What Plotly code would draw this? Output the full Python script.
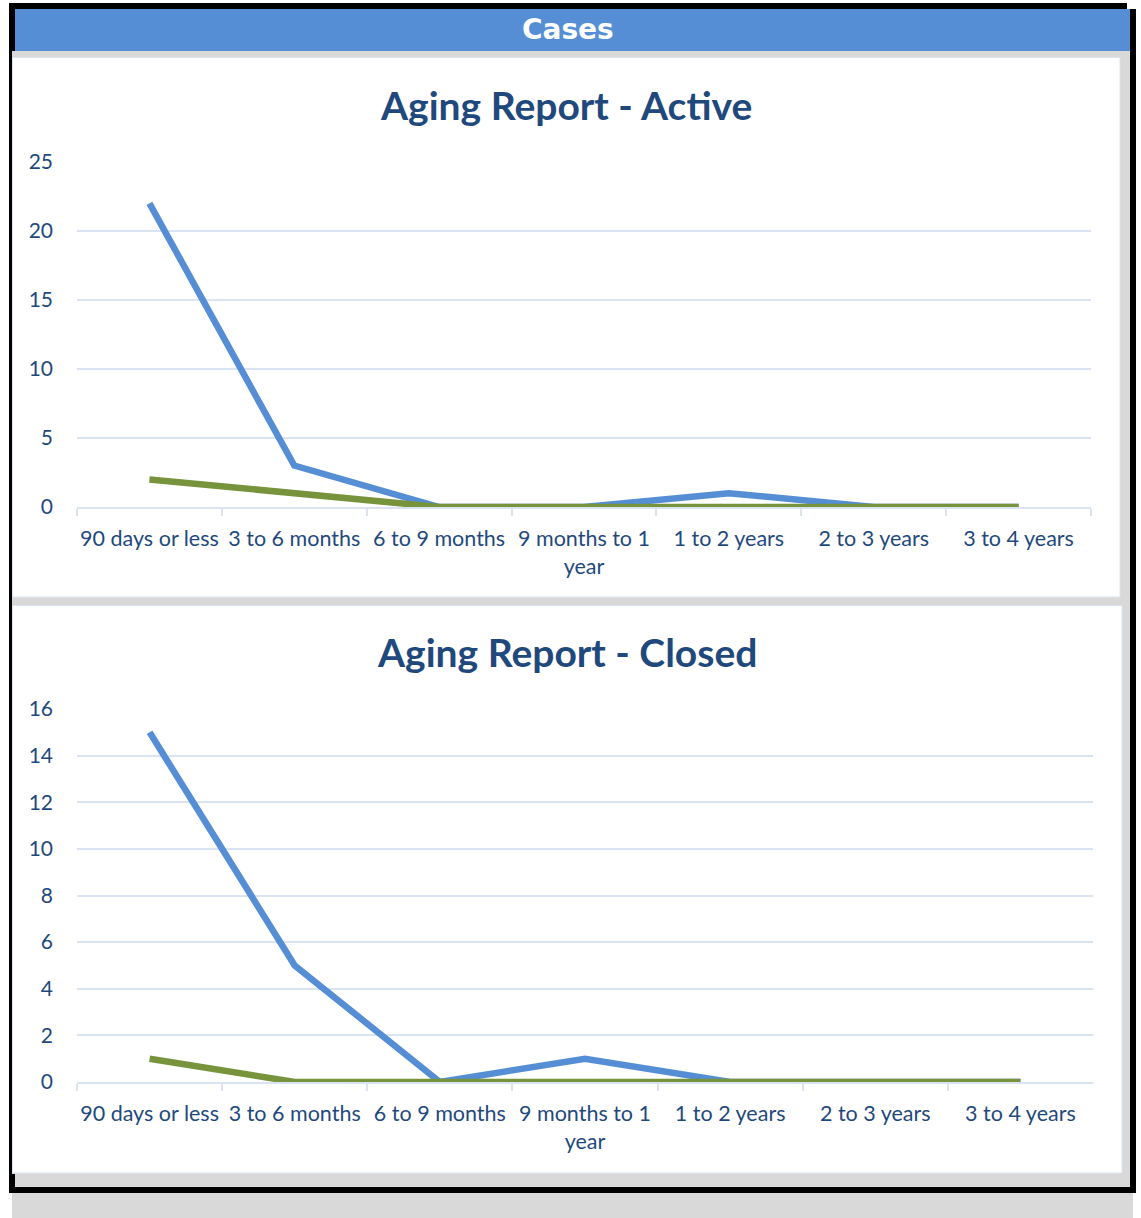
import plotly.graph_objects as go

W, H = 1141, 1218

categories = ["90 days or less", "3 to 6 months", "6 to 9 months", "9 months to 1 year",
              "1 to 2 years", "2 to 3 years", "3 to 4 years"]
tick_labels = ["90 days or less", "3 to 6 months", "6 to 9 months", "9 months to 1<br>year",
               "1 to 2 years", "2 to 3 years", "3 to 4 years"]
active_blue = [22, 3, 0, 0, 1, 0, 0]
active_green = [2, 1, 0, 0, 0, 0, 0]
closed_blue = [15, 5, 0, 1, 0, 0, 0]
closed_green = [1, 0, 0, 0, 0, 0, 0]
active_yticks = [0, 5, 10, 15, 20, 25]
closed_yticks = [0, 2, 4, 6, 8, 10, 12, 14, 16]

BLUE = "#558ed5"
GREEN = "#77933c"
DARK = "#1f497d"
GRID = "#d9e3f2"
FONT = "Lato"


def px(x):
    return x / W


def py(y):
    return 1 - y / H


fig = go.Figure()

for xa, ya, b, g in [("x", "y", active_blue, active_green), ("x2", "y2", closed_blue, closed_green)]:
    fig.add_trace(go.Scatter(x=categories, y=b, mode="lines", xaxis=xa, yaxis=ya,
                             line=dict(color=BLUE, width=6.5), showlegend=False, hoverinfo="skip"))
    fig.add_trace(go.Scatter(x=categories, y=g, mode="lines", xaxis=xa, yaxis=ya,
                             line=dict(color=GREEN, width=6.5), showlegend=False, hoverinfo="skip"))

shapes = []


def rect(x0, y0, x1, y1, fill, line=None):
    shapes.append(dict(type="rect", xref="paper", yref="paper",
                       x0=px(x0), x1=px(x1), y0=py(y1), y1=py(y0),
                       fillcolor=fill, line=dict(width=1 if line else 0, color=line or fill),
                       layer="below"))


# shadow / gray back
rect(12, 9, 1133, 1218, "#d9d9d9")
# black frame
rect(9, 3, 1127, 9, "#000000")
rect(9, 3, 15, 51, "#000000")
rect(9, 3, 12, 1193, "#000000")
rect(9, 1174, 15, 1193, "#000000")
rect(1130, 9, 1136, 1193, "#000000")
rect(9, 1187, 1136, 1193, "#000000")
# header
rect(15, 9, 1130, 51, BLUE)
# panels
rect(12.5, 57.5, 1120, 597, "#ffffff", "#dbe5f1")
rect(12.5, 605.5, 1122, 1173, "#ffffff", "#dbe5f1")

annotations = [
    dict(text="<b>Cases</b>", x=px(568), y=py(29), xref="paper", yref="paper",
         showarrow=False, font=dict(family="DejaVu Sans", size=28, color="#ffffff"),
         xanchor="center", yanchor="middle"),
    dict(text="<b>Aging Report - Active</b>", x=px(566), y=py(105), xref="paper", yref="paper",
         showarrow=False, font=dict(family=FONT, size=39, color=DARK),
         xanchor="center", yanchor="middle"),
    dict(text="<b>Aging Report - Closed</b>", x=px(567), y=py(652), xref="paper", yref="paper",
         showarrow=False, font=dict(family=FONT, size=39, color=DARK),
         xanchor="center", yanchor="middle"),
]

xaxis_common = dict(
    type="category", categoryorder="array", categoryarray=categories,
    tickmode="array", tickvals=categories, ticktext=tick_labels, tickangle=0,
    range=[-0.5, 6.5], tickson="boundaries", ticks="outside", ticklen=7,
    tickcolor=GRID, tickwidth=1.5, showline=True, linecolor=GRID, linewidth=1.5,
    showgrid=False, zeroline=False, automargin=False,
    tickfont=dict(family=FONT, size=21.5, color=DARK), fixedrange=True,
)
yaxis_common = dict(
    showgrid=True, gridcolor=GRID, gridwidth=1.5, zeroline=False, showline=False,
    ticks="", tickfont=dict(family=FONT, size=21, color=DARK), ticklabelstandoff=23,
    fixedrange=True, automargin=False,
)

fig.update_layout(
    template="none", autosize=False,
    width=W, height=H, margin=dict(l=0, r=0, t=0, b=0, pad=0),
    paper_bgcolor="#ffffff", plot_bgcolor="rgba(0,0,0,0)",
    showlegend=False,
    shapes=shapes, annotations=annotations,
    xaxis=dict(xaxis_common, domain=[px(77), px(1091)], anchor="y", ticklabelstandoff=11),
    yaxis=dict(yaxis_common, domain=[py(507), py(162)], range=[0, 25],
               tickmode="array", tickvals=active_yticks, anchor="x"),
    xaxis2=dict(xaxis_common, domain=[px(77), px(1093)], anchor="y2", ticklabelstandoff=11),
    yaxis2=dict(yaxis_common, domain=[py(1082), py(709)], range=[0, 16],
                tickmode="array", tickvals=closed_yticks, anchor="x2"),
)

fig.write_html("out.html", config={"displayModeBar": False},
               post_script="document.body.style.margin='0';")
